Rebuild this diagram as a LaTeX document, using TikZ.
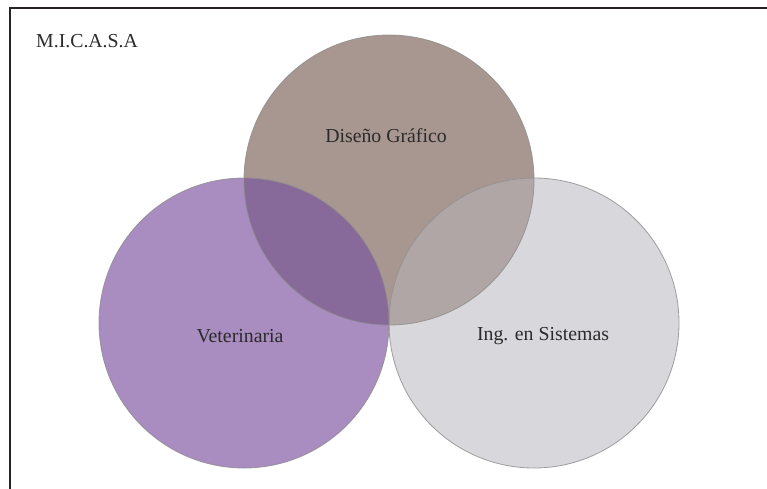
\documentclass[tikz,border=0pt]{standalone}
\usepackage{fontspec}
\setmainfont{Liberation Serif}
\definecolor{vetfill}{HTML}{A98CC0}
\definecolor{disfill}{HTML}{A89790}
\definecolor{ingfill}{HTML}{D8D8DC}
\definecolor{vetdis}{HTML}{876A99}
\definecolor{dising}{HTML}{B0A6A6}
\definecolor{framecol}{HTML}{2A2222}
\definecolor{labelcol}{HTML}{2B2B2B}
\tikzset{
  ring/.style={draw=black!45, draw opacity=0.8, line width=0.8pt},
  lbl/.style={text=labelcol, font=\fontsize{19.8}{23}\selectfont, inner sep=0pt}
}
\begin{document}
\begin{tikzpicture}[x=1pt, y=-1pt]
\useasboundingbox (0,0) rectangle (767,488);
\fill[white] (0,0) rectangle (767,488);
% frame along the top and left sides
\draw[framecol, line width=2pt] (10,489) -- (10,8) -- (768,8);
\node[lbl, anchor=west] (title) at (36,41) {M.I.C.A.S.A};

% circle fills
\fill[disfill] (389,180) circle (145);
\fill[vetfill] (244,323) circle (145);
\fill[ingfill] (534,323) circle (145);
% overlaps
\begin{scope}
  \clip (389,180) circle (145);
  \fill[vetdis] (244,323) circle (145);
  \fill[dising] (534,323) circle (145);
\end{scope}
% outlines
\draw[ring] (389,180) circle (145);
\draw[ring] (244,323) circle (145);
\draw[ring] (534,323) circle (145);

\node[lbl] (dis) at (386,136) {Diseño Gráfico};
\node[lbl] (vet) at (240,336) {Veterinaria};
\node[lbl] (ing) at (543,336) {Ing. en Sistemas};
\end{tikzpicture}
\end{document}
